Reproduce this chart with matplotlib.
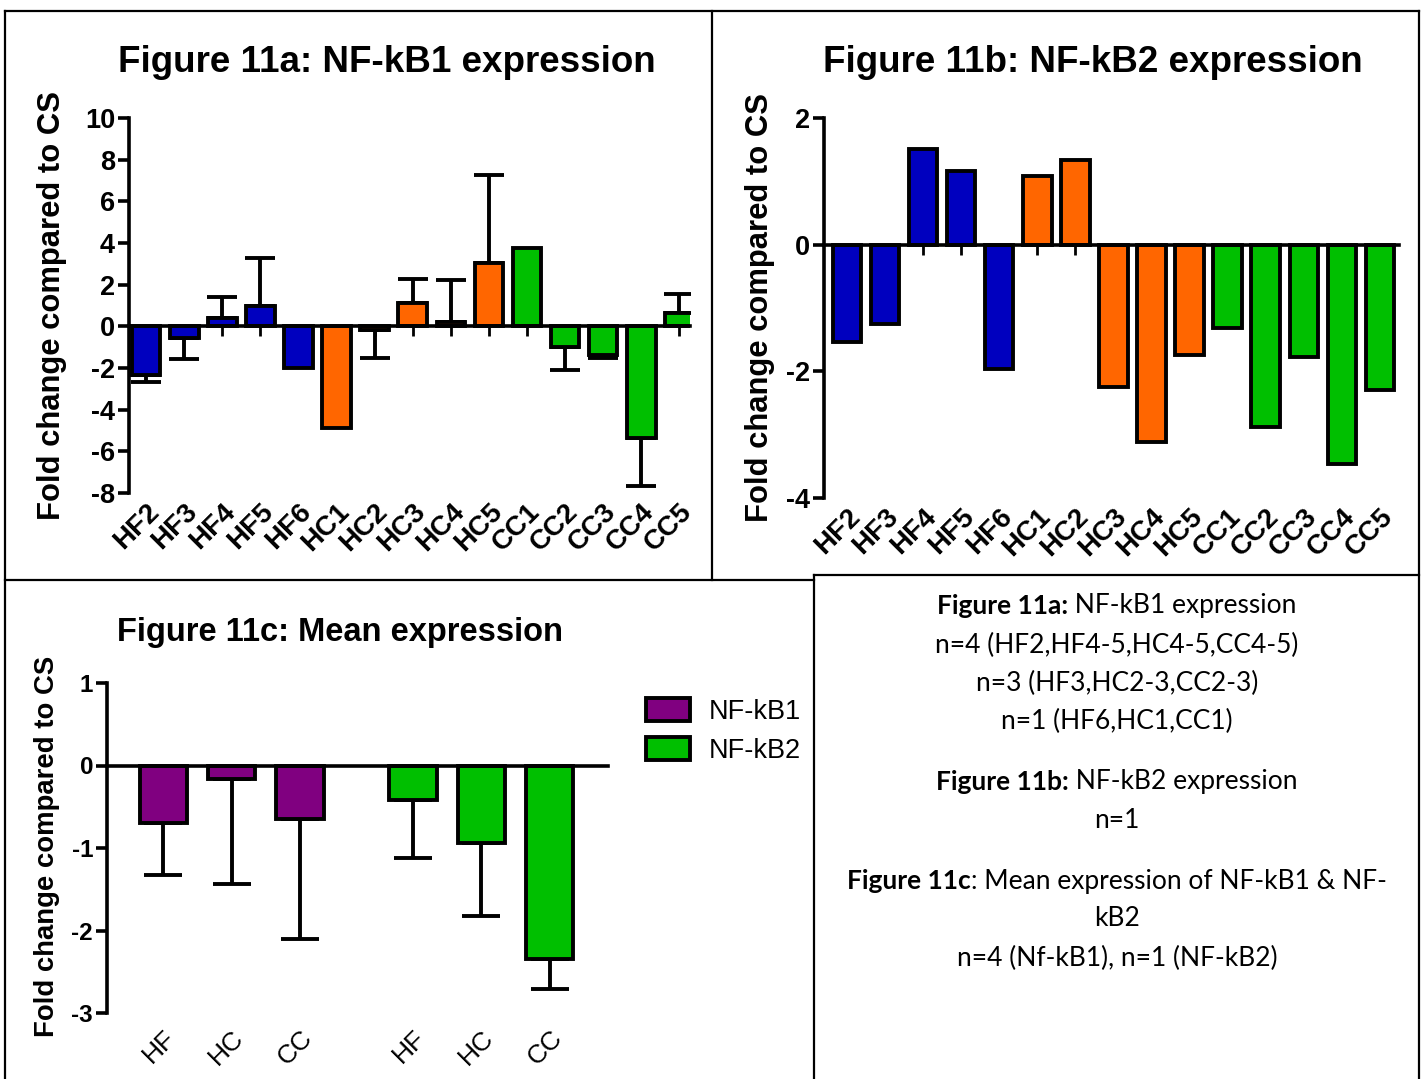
import numpy as np
import matplotlib
matplotlib.use('Agg')
import matplotlib.pyplot as plt
from matplotlib.lines import Line2D
from matplotlib.patches import Patch

# samples shown in 11a / 11b
samples = ['HF2', 'HF3', 'HF4', 'HF5', 'HF6', 'HC1', 'HC2', 'HC3', 'HC4', 'HC5',
           'CC1', 'CC2', 'CC3', 'CC4', 'CC5']
sample_groups = ['HF'] * 5 + ['HC'] * 5 + ['CC'] * 5

nfkb1_fold = [-2.35, -0.54, 0.42, 0.97, -1.98, -4.86, -0.16, 1.12, 0.21, 3.03,
              3.75, -0.99, -1.39, -5.34, 0.65]
# None -> n=1, no error bar
nfkb1_sd = [0.32, 1.01, 0.98, 2.32, None, None, 1.34, 1.13, 2.03, 4.25,
            None, 1.09, 0.13, 2.31, 0.92]
nfkb2_fold = [-1.53, -1.25, 1.51, 1.16, -1.96, 1.09, 1.34, -2.24, -3.12, -1.74,
              -1.32, -2.88, -1.78, -3.46, -2.29]

# 11c group means
mean_groups = ['HF', 'HC', 'CC']
mean_nfkb1 = [-0.70, -0.16, -0.65]
mean_nfkb1_sd = [0.63, 1.28, 1.45]
mean_nfkb2 = [-0.42, -0.94, -2.34]
mean_nfkb2_sd = [0.70, 0.89, 0.37]

group_colors = {'HF': '#0000BF', 'HC': '#FF6600', 'CC': '#00BF00'}
purple = '#800080'
green = '#00BF00'

W, H = 1427, 1079
plt.rcParams['font.family'] = ['Liberation Sans', 'DejaVu Sans']
plt.rcParams['font.weight'] = 'bold'
plt.rcParams['axes.unicode_minus'] = False

fig = plt.figure(figsize=(W / 100, H / 100), dpi=100)


def px_axes(x0, y0, x1, y1):
    # axes from pixel box (top-left origin)
    return fig.add_axes([x0 / W, 1 - y1 / H, (x1 - x0) / W, (y1 - y0) / H])


def style_axis(ax, labels, xpos, ticksize, xlabsize, xlabweight, xpad):
    for s in ['top', 'right']:
        ax.spines[s].set_visible(False)
    ax.spines['left'].set_linewidth(2.6)
    ax.spines['bottom'].set_linewidth(2.6)
    ax.spines['bottom'].set_position(('data', 0))
    ax.tick_params(axis='y', width=2.6, length=8, labelsize=ticksize, pad=2)
    ax.tick_params(axis='x', width=2, length=7, labelbottom=False)
    ax.set_xticks(xpos)
    sec = ax.secondary_xaxis('bottom')
    sec.set_xticks(xpos)
    sec.set_xticklabels(labels, rotation=45, ha='right', va='top',
                        rotation_mode='anchor', fontsize=xlabsize,
                        fontweight=xlabweight)
    sec.tick_params(length=0, pad=xpad)
    sec.spines['bottom'].set_visible(False)


def one_sided_err(ax, xpos, vals, sds, capsize):
    for xi, v, sd in zip(xpos, vals, sds):
        if sd is None:
            continue
        lo, hi = (sd, 0) if v < 0 else (0, sd)
        ax.errorbar(xi, v, yerr=[[lo], [hi]], fmt='none', ecolor='black',
                    elinewidth=2.8, capsize=capsize, capthick=2.8, zorder=1.5)


x = np.arange(len(samples))
cols = [group_colors[g] for g in sample_groups]

# ---- Figure 11a
ax_a = px_axes(129, 118, 690, 493)
ax_a.bar(x, nfkb1_fold, width=0.75, color=cols, edgecolor='black', linewidth=2.8, zorder=2)
one_sided_err(ax_a, x, nfkb1_fold, nfkb1_sd, 10.5)
ax_a.set_xlim(-0.45, 14.28)
ax_a.set_ylim(-8, 10)
ax_a.set_yticks(np.arange(-8, 11, 2))
style_axis(ax_a, samples, x, 19.5, 20, 'bold', 4)

# ---- Figure 11b
ax_b = px_axes(824, 118, 1399, 498)
ax_b.bar(x, nfkb2_fold, width=0.75, color=cols, edgecolor='black', linewidth=2.8, zorder=2)
ax_b.set_xlim(-0.6, 14.5)
ax_b.set_ylim(-4, 2)
ax_b.set_yticks([-4, -2, 0, 2])
style_axis(ax_b, samples, x, 19.5, 20, 'bold', 4)

# ---- Figure 11c
xc1 = np.arange(len(mean_groups))
xc2 = xc1 + 3.65
ax_c = px_axes(107, 683, 608, 1013)
ax_c.bar(xc1, mean_nfkb1, width=0.69, color=purple, edgecolor='black', linewidth=2.8, zorder=2)
ax_c.bar(xc2, mean_nfkb2, width=0.69, color=green, edgecolor='black', linewidth=2.8, zorder=2)
one_sided_err(ax_c, xc1, mean_nfkb1, mean_nfkb1_sd, 14)
one_sided_err(ax_c, xc2, mean_nfkb2, mean_nfkb2_sd, 14)
ax_c.set_xlim(-0.82, 6.5)
ax_c.set_ylim(-3, 1)
ax_c.set_yticks([-3, -2, -1, 0, 1])
style_axis(ax_c, mean_groups + mean_groups, np.concatenate([xc1, xc2]), 17.5, 19, 'normal', 9)
handles = [Patch(facecolor=purple, edgecolor='black', linewidth=2.8, label='NF-kB1'),
           Patch(facecolor=green, edgecolor='black', linewidth=2.8, label='NF-kB2')]
ax_c.legend(handles=handles, loc='upper left', bbox_to_anchor=(622 / W, 1 - 674 / H),
            bbox_transform=fig.transFigure, frameon=False, handlelength=1.6,
            handleheight=0.9, labelspacing=0.45, handletextpad=0.7,
            prop={'size': 19.5, 'weight': 'normal'})

# titles and y labels
fig.text(387 / W, 1 - 62 / H, 'Figure 11a: NF-kB1 expression', fontsize=26.5,
         ha='center', va='center')
fig.text(1093 / W, 1 - 62 / H, 'Figure 11b: NF-kB2 expression', fontsize=26.5,
         ha='center', va='center')
fig.text(340 / W, 1 - 633 / H, 'Figure 11c: Mean expression', fontsize=23.5,
         ha='center', va='center')
fig.text(52 / W, 1 - 305 / H, 'Fold change compared to CS', fontsize=22.3,
         rotation=90, ha='center', va='center')
fig.text(760 / W, 1 - 307 / H, 'Fold change compared to CS', fontsize=22.3,
         rotation=90, ha='center', va='center')
fig.text(47 / W, 1 - 846 / H, 'Fold change compared to CS', fontsize=19.8,
         rotation=90, ha='center', va='center')

# panel borders
border_segments = [((5, 11), (1419, 11)), ((5, 11), (5, 1079)), ((1419, 11), (1419, 1079)),
                   ((712, 11), (712, 580)), ((5, 580), (814, 580)),
                   ((814, 575), (1419, 575)), ((814, 575), (814, 1079))]
for (xa, ya), (xb, yb) in border_segments:
    fig.add_artist(Line2D([xa / W, xb / W], [1 - ya / H, 1 - yb / H],
                          transform=fig.transFigure, color='black', lw=1.6))

# caption box
box_font = ['Lato', 'DejaVu Sans']
box_size = 19
caption_lines = [
    ('Figure 11a:', ' NF-kB1 expression', 606),
    ('', 'n=4 (HF2,HF4-5,HC4-5,CC4-5)', 645),
    ('', 'n=3 (HF3,HC2-3,CC2-3)', 683),
    ('', 'n=1 (HF6,HC1,CC1)', 721),
    ('Figure 11b:', ' NF-kB2 expression', 782),
    ('', 'n=1', 821),
    ('Figure 11c', ': Mean expression of NF-kB1 & NF-', 881),
    ('', 'kB2', 919),
    ('', 'n=4 (Nf-kB1), n=1 (NF-kB2)', 958),
]
renderer = fig.canvas.get_renderer()
cx = 1117
for bold, rest, yp in caption_lines:
    t1 = fig.text(0, 1 - yp / H, bold, fontsize=box_size, fontweight='bold',
                  family=box_font, va='center')
    t2 = fig.text(0, 1 - yp / H, rest, fontsize=box_size, fontweight='normal',
                  family=box_font, va='center')
    w1 = t1.get_window_extent(renderer).width if bold else 0
    w2 = t2.get_window_extent(renderer).width
    x0 = cx - (w1 + w2) / 2
    t1.set_x(x0 / W)
    t2.set_x((x0 + w1) / W)

fig.savefig('out.png', dpi=100)
